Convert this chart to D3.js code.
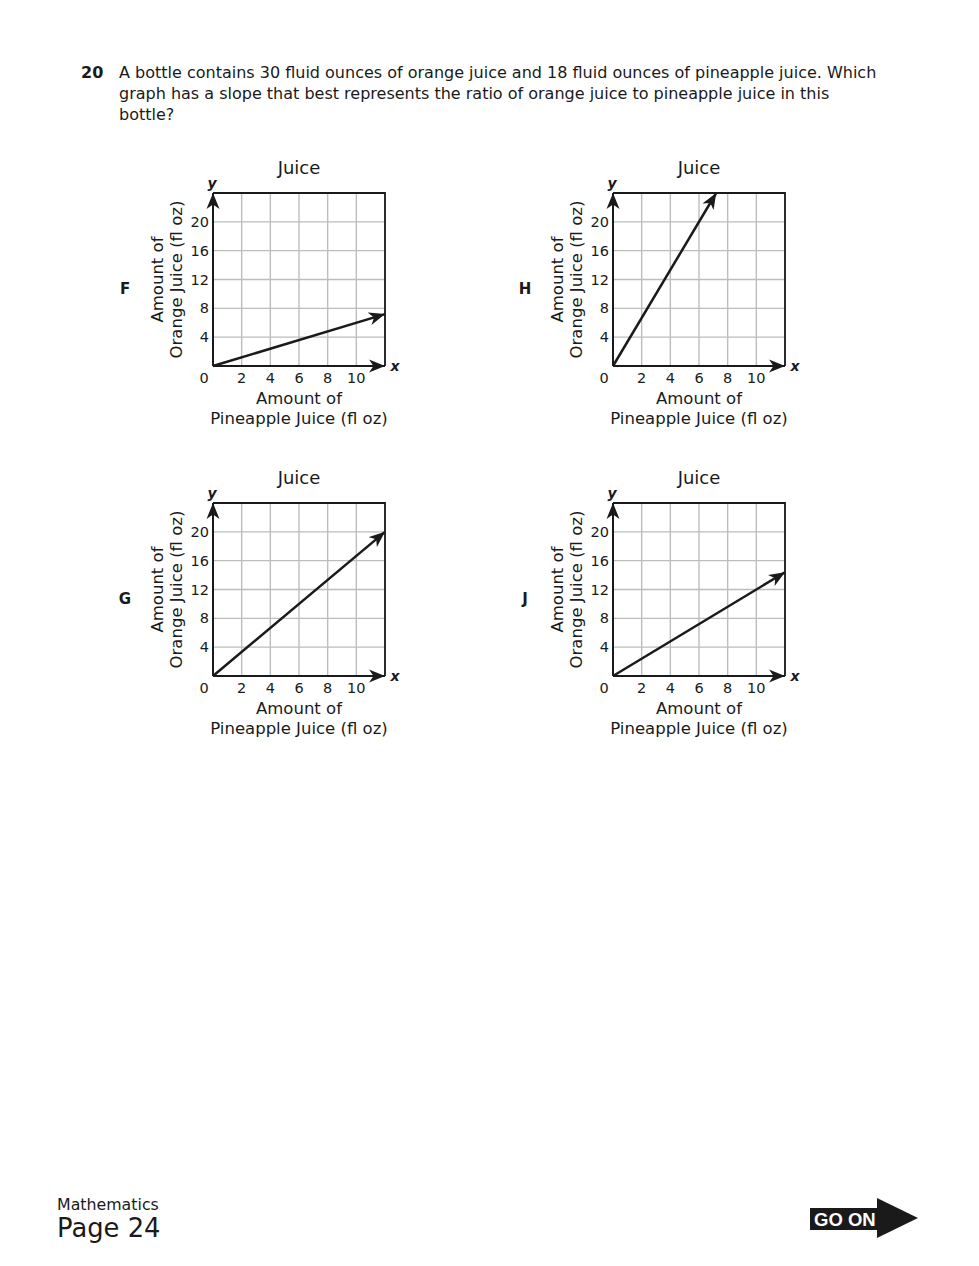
<!DOCTYPE html>
<html>
<head>
<meta charset="utf-8">
<script src="https://cdn.jsdelivr.net/npm/d3@7"></script>
<style>
  body { margin: 0; background: #fff; }
  svg { display: block; font-family: "DejaVu Sans", Verdana, sans-serif; }
</style>
</head>
<body>
<div id="page"></div>
<script>
// answer choices, and where each arrow ends (x = pineapple, y = orange)
const panels = ['F', 'H', 'G', 'J'];
const endX = [12, 7.2, 12, 12];
const endY = [7.2, 24, 20, 14.4];
const xTicks = [2, 4, 6, 8, 10];
const yTicks = [4, 8, 12, 16, 20];
const xGrid = [0, 2, 4, 6, 8, 10, 12];
const yGrid = [0, 4, 8, 12, 16, 20, 24];
const questionLines = [
    'A bottle contains 30 fluid ounces of orange juice and 18 fluid ounces of pineapple juice. Which',
    'graph has a slope that best represents the ratio of orange juice to pineapple juice in this',
    'bottle?'
];

const W = 979, H = 1266;
const plotW = 172, plotH = 173;
const origins = [[213, 193], [613, 193], [213, 503], [613, 503]];
const ink = '#1a1a1a';

const svg = d3.select('#page').append('svg')
    .attr('width', W)
    .attr('height', H);

const defs = svg.append('defs');
defs.append('marker')
    .attr('id', 'arrow')
    .attr('viewBox', '-16 -7 17 14')
    .attr('refX', 0)
    .attr('refY', 0)
    .attr('markerWidth', 17)
    .attr('markerHeight', 14)
    .attr('markerUnits', 'userSpaceOnUse')
    .attr('orient', 'auto')
    .append('path')
    .attr('d', 'M0,0 L-16,-6.5 L-11.5,0 L-16,6.5 Z')
    .attr('fill', ink);

// question header
svg.append('text')
    .attr('x', 81).attr('y', 78)
    .attr('font-size', 16).attr('font-weight', 'bold')
    .attr('fill', ink)
    .text('20');

svg.selectAll('.q')
    .data(questionLines)
    .enter().append('text')
    .attr('class', 'q')
    .attr('x', 119)
    .attr('y', (d, i) => 78 + i * 21)
    .attr('font-size', 16)
    .attr('fill', ink)
    .text(d => d);

const x = d3.scaleLinear().domain([0, 12]).range([0, plotW]);
const y = d3.scaleLinear().domain([0, 24]).range([plotH, 0]);

panels.forEach((letter, i) => {
    const g = svg.append('g')
        .attr('transform', `translate(${origins[i][0]},${origins[i][1]})`);

    // grid
    g.selectAll('.vg').data(xGrid).enter().append('line')
        .attr('x1', d => x(d)).attr('x2', d => x(d))
        .attr('y1', 0).attr('y2', plotH)
        .attr('stroke', '#bdbdbd').attr('stroke-width', 1.4);
    g.selectAll('.hg').data(yGrid).enter().append('line')
        .attr('x1', 0).attr('x2', plotW)
        .attr('y1', d => y(d)).attr('y2', d => y(d))
        .attr('stroke', '#bdbdbd').attr('stroke-width', 1.4);

    // top and right border
    g.append('path')
        .attr('d', `M0,${y(24)} H${x(12)} V${y(0)}`)
        .attr('fill', 'none')
        .attr('stroke', ink).attr('stroke-width', 1.8);

    // axes with arrows
    g.append('line')
        .attr('x1', x(0)).attr('y1', y(0))
        .attr('x2', x(12)).attr('y2', y(0))
        .attr('stroke', ink).attr('stroke-width', 2)
        .attr('marker-end', 'url(#arrow)');
    g.append('line')
        .attr('x1', x(0)).attr('y1', y(0))
        .attr('x2', x(0)).attr('y2', y(24))
        .attr('stroke', ink).attr('stroke-width', 2)
        .attr('marker-end', 'url(#arrow)');

    // the line
    g.append('line')
        .attr('x1', x(0)).attr('y1', y(0))
        .attr('x2', x(endX[i])).attr('y2', y(endY[i]))
        .attr('stroke', ink).attr('stroke-width', 2.5)
        .attr('marker-end', 'url(#arrow)');

    // tick labels
    g.selectAll('.xt').data(xTicks).enter().append('text')
        .attr('x', d => x(d)).attr('y', y(0) + 17)
        .attr('text-anchor', 'middle')
        .attr('font-size', 14.5).attr('fill', ink)
        .text(d => d);
    g.selectAll('.yt').data(yTicks).enter().append('text')
        .attr('x', -4).attr('y', d => y(d) + 5)
        .attr('text-anchor', 'end')
        .attr('font-size', 14.5).attr('fill', ink)
        .text(d => d);
    g.append('text')
        .attr('x', -9).attr('y', y(0) + 17)
        .attr('text-anchor', 'middle')
        .attr('font-size', 14.5).attr('fill', ink)
        .text('0');

    // axis letters
    g.append('text')
        .attr('x', -1).attr('y', -5)
        .attr('text-anchor', 'middle')
        .attr('font-size', 14).attr('font-weight', 'bold').attr('font-style', 'italic')
        .attr('fill', ink)
        .text('y');
    g.append('text')
        .attr('x', plotW + 10).attr('y', y(0) + 5)
        .attr('text-anchor', 'middle')
        .attr('font-size', 14).attr('font-weight', 'bold').attr('font-style', 'italic')
        .attr('fill', ink)
        .text('x');

    // title
    g.append('text')
        .attr('x', plotW / 2).attr('y', -19)
        .attr('text-anchor', 'middle')
        .attr('font-size', 18).attr('fill', ink)
        .text('Juice');

    // x axis title
    g.append('text')
        .attr('x', plotW / 2).attr('y', y(0) + 38)
        .attr('text-anchor', 'middle')
        .attr('font-size', 16.5).attr('fill', ink)
        .text('Amount of');
    g.append('text')
        .attr('x', plotW / 2).attr('y', y(0) + 58)
        .attr('text-anchor', 'middle')
        .attr('font-size', 16.5).attr('fill', ink)
        .text('Pineapple Juice (fl oz)');

    // y axis title
    const yl = g.append('g')
        .attr('transform', `translate(0,${plotH / 2}) rotate(-90)`);
    yl.append('text')
        .attr('x', 0).attr('y', -50)
        .attr('text-anchor', 'middle')
        .attr('font-size', 16.5).attr('fill', ink)
        .text('Amount of');
    yl.append('text')
        .attr('x', 0).attr('y', -31)
        .attr('text-anchor', 'middle')
        .attr('font-size', 16.5).attr('fill', ink)
        .text('Orange Juice (fl oz)');

    // choice letter
    g.append('text')
        .attr('x', -88).attr('y', plotH / 2 + 14)
        .attr('text-anchor', 'middle')
        .attr('font-size', 15).attr('font-weight', 'bold')
        .attr('fill', ink)
        .text(letter);
});

// footer
svg.append('text')
    .attr('x', 57).attr('y', 1210)
    .attr('font-size', 15.8).attr('fill', ink)
    .text('Mathematics');
svg.append('text')
    .attr('x', 57).attr('y', 1237)
    .attr('font-size', 25.8).attr('fill', ink)
    .text('Page 24');

svg.append('rect')
    .attr('x', 810).attr('y', 1208)
    .attr('width', 70).attr('height', 22)
    .attr('fill', ink);
svg.append('path')
    .attr('d', 'M877,1198 L918,1218 L877,1238 Z')
    .attr('fill', ink);
svg.append('text')
    .attr('x', 814).attr('y', 1226)
    .attr('font-family', '"Liberation Sans", Arial, sans-serif')
    .attr('font-size', 18.5).attr('font-weight', 'bold')
    .attr('fill', '#fff')
    .text('GO ON');
</script>
</body>
</html>
